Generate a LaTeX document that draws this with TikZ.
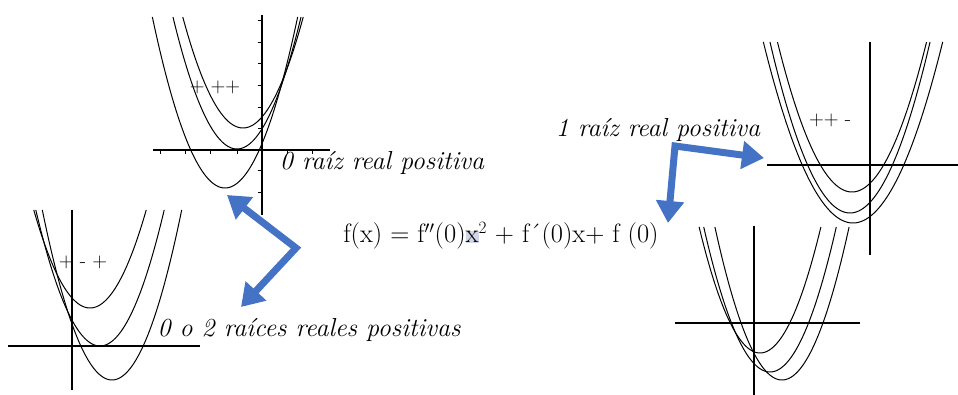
\documentclass[tikz,border=0pt]{standalone}
\usepackage{tikz}
\usetikzlibrary{arrows.meta}
\definecolor{arrowblue}{RGB}{68,114,196}
\definecolor{selgray}{RGB}{208,214,232}

\begin{document}
\begin{tikzpicture}[x=1pt, y=-1pt,
	axis/.style={line width=1.1pt},
	curve/.style={line width=1pt, smooth, samples=80},
	bigarrow/.style={arrowblue, line width=7pt, line join=miter, {Triangle[length=22pt,width=27pt]}-{Triangle[length=22pt,width=27pt]}},
	sign/.style={font=\fontsize{20.5}{20.5}\selectfont, inner sep=0pt},
	lab/.style={font=\fontsize{26}{26}\selectfont\itshape, inner sep=0pt},
	eqn/.style={font=\fontsize{26.5}{26.5}\selectfont, inner sep=0pt}]
	\useasboundingbox (0,0) rectangle (958,395);
	% the four sets of parabolas: vertex, opening, top edge
	\foreach \cx/\cy/\ck/\ctop in {243/128/0.0306/17, 237/149/0.0322/17, 225/188/0.0324/17,
		90/308/0.031/210, 100/346/0.033/210, 112/380/0.035/210,
		852/192/0.027/42, 850/213/0.0267/42, 853/223/0.0225/42,
		760/353/0.034/227, 770/372/0.033/227, 782/380/0.034/227} {
		\pgfmathsetmacro\ca{\cx-sqrt((\cy-\ctop)/\ck)}
		\pgfmathsetmacro\cb{\cx+sqrt((\cy-\ctop)/\ck)}
		\draw[curve, domain=\ca:\cb] plot (\x, {\cy-\ck*(\x-\cx)^2});
	}
	% axes
	\foreach \xa/\ya/\xb/\yb in {262/15/262/215, 153/150/330/150, 72/210/72/390, 8/346/200/346,
		870/42/870/255, 767/165/958/165, 754/226/754/395, 675/323/860/323} {
		\draw[axis] (\xa,\ya) -- (\xb,\yb);
	}
	\foreach \y in {20,42,63,85,107,128,170,192} \draw[line width=0.6pt] (258,\y) -- (262,\y);
	\foreach \x in {160,185,210,237,287,312} \draw[line width=0.6pt] (\x,150) -- (\x,154);
	% signs
	\node[sign] (signA) at (215,87) {+ ++};
	\node[sign] (signB) at (83,262) {+ - +};
	\node[sign] (signC) at (830,120) {++ -};
	% labels
	\node[lab] (rootzero) at (382,163) {0 raíz real positiva};
	\node[lab] (rootsmany) at (309,330) {0 o 2 raíces reales positivas};
	\node[lab] (rootone) at (658,130) {1 raíz real positiva};
	\node[eqn] (fx) at (501,236) {f(x) = f$''$(0){\fboxsep=0pt\colorbox{selgray}{x}}$^2$ + f´(0)x+ f (0)};
	% arrows
	\coordinate (tipAa) at (227,195); \coordinate (bendA) at (296,248); \coordinate (tipAb) at (241,307);
	\coordinate (tipBa) at (668,223); \coordinate (bendB) at (675,146); \coordinate (tipBb) at (764,158);
	\draw[bigarrow] (tipAa) -- (bendA) -- (tipAb);
	\draw[bigarrow] (tipBa) -- (bendB) -- (tipBb);
\end{tikzpicture}
\end{document}
